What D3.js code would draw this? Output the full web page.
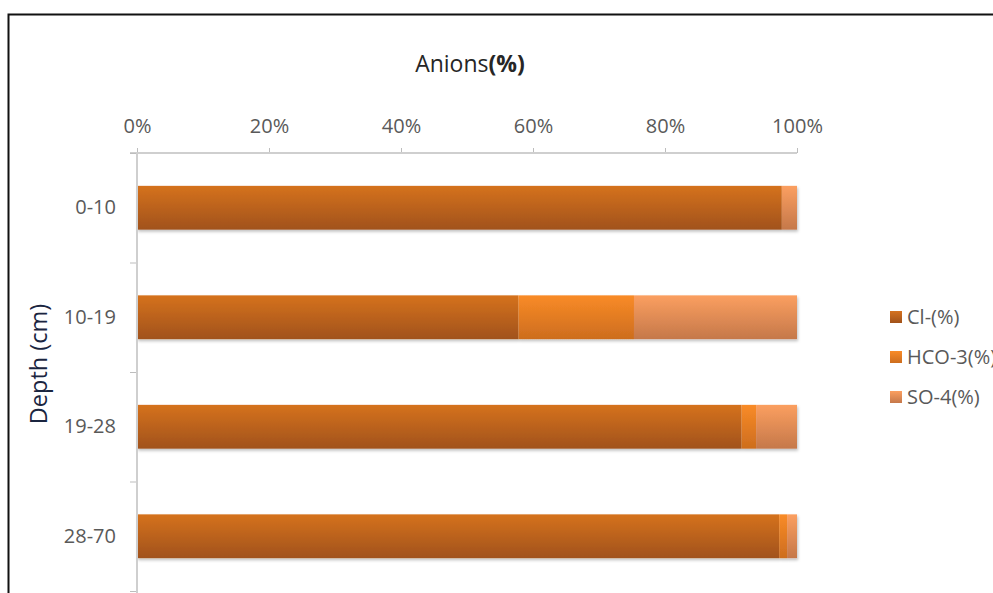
<!DOCTYPE html>
<html><head><meta charset="utf-8">
<script src="https://cdn.jsdelivr.net/npm/d3@7"></script>
<style>
body{margin:0;background:#fff;overflow:hidden;}
svg{display:block;font-family:"Open Sans",sans-serif;}
</style></head>
<body><svg id="c" width="993" height="593"></svg>
<script>
const categories = ["0-10","10-19","19-28","28-70"];
const seriesNames = ["Cl-(%)","HCO-3(%)","SO-4(%)"];
const clValues   = [97.7, 57.8, 91.6, 97.3];
const hco3Values = [0.0, 17.5, 2.2, 1.2];
const so4Values  = [2.3, 24.7, 6.2, 1.5];
const xTicks = [0,20,40,60,80,100];
const chartTitle = "Anions";
const chartTitleUnit = "(%)";
const yTitle = "Depth (cm)";

const colors = [
  {top:"#d5721f", bottom:"#a1521a"},
  {top:"#f98b27", bottom:"#cd6d1e"},
  {top:"#fb9f60", bottom:"#c5784a"}
];

const rows = categories.map((c,i)=>({cat:c, s0:clValues[i], s1:hco3Values[i], s2:so4Values[i]}));
const stack = d3.stack().keys(["s0","s1","s2"])(rows);

const svg = d3.select("#c");
const defs = svg.append("defs");
colors.forEach((c,i)=>{
  const g = defs.append("linearGradient").attr("id","g"+i).attr("x1",0).attr("y1",0).attr("x2",0).attr("y2",1);
  g.append("stop").attr("offset","0%").attr("stop-color",c.top);
  g.append("stop").attr("offset","100%").attr("stop-color",c.bottom);
});
const f = defs.append("filter").attr("id","sh").attr("x","-5%").attr("y","-20%").attr("width","110%").attr("height","150%");
f.append("feDropShadow").attr("dx",1).attr("dy",2).attr("stdDeviation",1.5).attr("flood-color","#000").attr("flood-opacity",0.25);

// frame
svg.append("rect").attr("x",8.5).attr("y",14.5).attr("width",1200).attr("height",1000)
  .attr("fill","none").attr("stroke","#111").attr("stroke-width",2);

const x = d3.scaleLinear().domain([0,100]).range([137,797]);
const y = d3.scaleBand().domain(categories).range([153,591]).paddingInner(0.6).paddingOuter(0.3);
const yEdges = d3.scaleLinear().domain([0,categories.length]).range([153,591]);

// bars
const gBars = svg.append("g").attr("filter","url(#sh)");
stack.forEach((layer,li)=>{
  gBars.selectAll(null).data(layer).join("rect")
    .attr("x",d=>x(d[0])).attr("y",d=>y(d.data.cat))
    .attr("width",d=>Math.max(0,x(d[1])-x(d[0]))).attr("height",y.bandwidth())
    .attr("fill","url(#g"+li+")");
});

// x axis (top)
const xAxis = svg.append("g").attr("transform","translate(0,153)")
  .call(d3.axisTop(x).tickValues(xTicks).tickFormat(d=>d+"%").tickSize(5).tickPadding(15));
xAxis.select(".domain").remove();
xAxis.append("line").attr("x1",130).attr("x2",797).attr("stroke","#cfcfcf").attr("stroke-width",2);
xAxis.selectAll(".tick line").attr("stroke","#bdbdbd");
xAxis.selectAll(".tick text").attr("fill","#595959").style("font-size","20px").style("font-family","'Open Sans',sans-serif");

// y axis
const yAxisLine = svg.append("g").attr("transform","translate(137,0)")
  .call(d3.axisLeft(yEdges).tickValues(d3.range(categories.length+1)).tickFormat("").tickSize(7));
yAxisLine.select(".domain").remove();
yAxisLine.append("line").attr("y1",153).attr("y2",600).attr("stroke","#cfcfcf").attr("stroke-width",2);
yAxisLine.selectAll(".tick line").attr("stroke","#bdbdbd");

const yAxis = svg.append("g").attr("transform","translate(137,0)")
  .call(d3.axisLeft(y).tickSize(0).tickPadding(21));
yAxis.select(".domain").remove();
yAxis.selectAll(".tick text").attr("fill","#595959").style("font-size","20px").style("font-family","'Open Sans',sans-serif");

// titles
const t = svg.append("text").attr("x",470).attr("y",72).attr("text-anchor","middle")
  .attr("fill","#262626").style("font-size","23px");
t.append("tspan").text(chartTitle);
t.append("tspan").style("font-weight","bold").text(chartTitleUnit);
svg.append("text").attr("transform","translate(47,364) rotate(-90)").attr("text-anchor","middle")
  .attr("fill","#1a2540").style("font-size","23.5px").text(yTitle);

// legend
const legend = svg.append("g");
seriesNames.forEach((n,i)=>{
  const yy = 317 + i*40;
  legend.append("rect").attr("x",890).attr("y",yy-6).attr("width",12).attr("height",12).attr("fill","url(#g"+i+")");
  legend.append("text").attr("x",907).attr("y",yy).attr("dy","0.35em")
    .attr("fill","#595959").style("font-size","20px").text(n);
});
</script></body></html>
